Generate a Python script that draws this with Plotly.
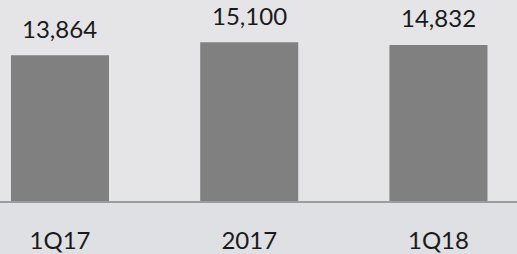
import plotly.graph_objects as go

categories = ["1Q17", "2017", "1Q18"]
values = [13864, 15100, 14832]
value_labels = ["13,864", "15,100", "14,832"]

FONT = "Lato, Noto Sans, sans-serif"

fig = go.Figure()
fig.add_trace(go.Bar(
    x=categories, y=values,
    marker=dict(color="#808080", line=dict(width=0)),
    width=0.518,
    hoverinfo="skip",
))

for i, (v, t) in enumerate(zip(values, value_labels)):
    fig.add_annotation(x=i, y=v, text=t, showarrow=False,
                       yanchor="middle", yshift=27,
                       font=dict(family=FONT, size=24, color="#1a1a1a"))

fig.update_layout(
    width=517, height=254,
    margin=dict(l=0, r=0, t=0, b=49),
    paper_bgcolor="#dfe0e3",
    plot_bgcolor="#e5e5e7",
    showlegend=False,
    font=dict(family=FONT, size=24, color="#1a1a1a"),
    xaxis=dict(
        type="category",
        range=[-0.317, 2.415],
        showgrid=False, zeroline=False,
        showline=True, linecolor="#9c9c9c", linewidth=2,
        ticks="", ticklabelstandoff=17,
        tickfont=dict(family=FONT, size=24, color="#1a1a1a"),
        fixedrange=True,
    ),
    yaxis=dict(
        range=[0, 19108],
        visible=False, showgrid=False, zeroline=False,
        fixedrange=True,
    ),
)

fig.write_html(
    "out.html",
    config={"displayModeBar": False, "staticPlot": True},
    post_script="document.body.style.margin='0px';document.body.style.padding='0px';",
)
